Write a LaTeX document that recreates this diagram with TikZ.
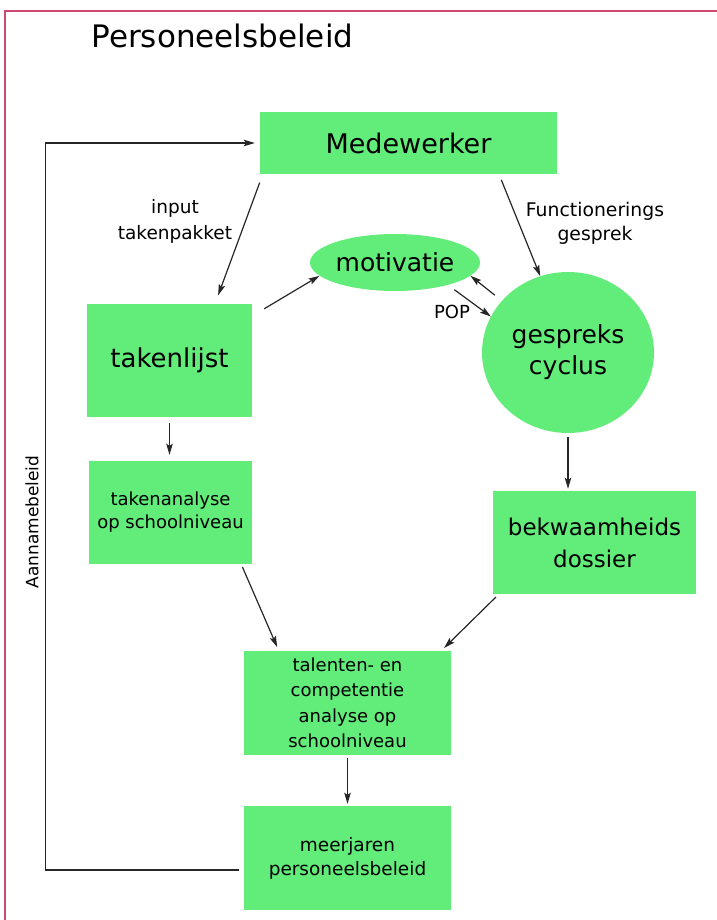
\documentclass[tikz,border=0pt]{standalone}
\usepackage{fontspec}
\setmainfont{DejaVu Sans}
\usepackage{tikz}
\usetikzlibrary{calc}
\usetikzlibrary{arrows.meta}
\usetikzlibrary{shapes.geometric}
\usepackage{color}
\definecolor{grasgroen}{RGB}{98, 236, 121}
\definecolor{kaderrood}{RGB}{204, 74, 112}

\begin{document}
\begin{tikzpicture}[x=1pt, y=-1pt,
        blok/.style={rectangle, fill=grasgroen, inner sep=0pt, align=center},
        bol/.style={ellipse, fill=grasgroen, inner sep=0pt, align=center},
        pijl/.style={-{Stealth[length=11pt, width=6.5pt, inset=2pt]}, line width=1.2pt, black!85}]
            \useasboundingbox                                        (0, 0) rectangle (716, 920);
            \draw[kaderrood, line width=2pt]                         (5, 11) rectangle (730, 935);
            \node[anchor=base west, font=\fontsize{31}{36}\selectfont]                  (titel)        at ( 88.0,  48.0) {Personeelsbeleid};
            \node[blok, minimum width=297pt, minimum height=62pt,  font=\fontsize{27}{32}\selectfont]   (medewerker)   at (408.5, 143.0) {Medewerker};
            \node[blok, minimum width=165pt, minimum height=113pt, font=\fontsize{26}{30}\selectfont]   (takenlijst)   at (169.5, 360.5) {takenlijst};
            \node[bol,  minimum width=170pt, minimum height=57pt,  font=\fontsize{25}{30}\selectfont]   (motivatie)    at (395.0, 262.5) {motivatie};
            \node[bol,  minimum width=172pt, minimum height=161pt, font=\fontsize{25}{31}\selectfont]   (gespreks)     at (568.0, 352.5) {gespreks\\cyclus};
            \node[blok, minimum width=163pt, minimum height=103pt, font=\fontsize{18}{23}\selectfont]   (takenanalyse) at (170.5, 512.5) {takenanalyse\\op schoolniveau};
            \node[blok, minimum width=203pt, minimum height=103pt, font=\fontsize{23}{32}\selectfont]   (bekwaamheid)  at (594.5, 542.5) {bekwaamheids\\dossier};
            \node[blok, minimum width=207pt, minimum height=104pt, font=\fontsize{18}{25.5}\selectfont] (talenten)     at (347.5, 703.0) {talenten- en\\competentie\\analyse op\\schoolniveau};
            \node[blok, minimum width=207pt, minimum height=104pt, font=\fontsize{18.5}{24}\selectfont] (meerjaren)    at (347.5, 858.0) {meerjaren\\personeelsbeleid};
            \node[align=center, font=\fontsize{18.5}{26}\selectfont]                    (invoer)        at (175.0, 221.0) {input\\takenpakket};
            \node[align=center, font=\fontsize{18.8}{24}\selectfont]                    (functionering) at (595.0, 223.0) {Functionerings\\gesprek};
            \node[font=\fontsize{18}{22}\selectfont]                                    (pop)           at (452.0, 312.0) {POP};
            \node[rotate=90, font=\fontsize{17}{20}\selectfont]                         (aanname)       at ( 32.0, 522.0) {Aannamebeleid};
            \draw[pijl, shorten <=9pt, shorten >=9pt] ([xshift=3pt]medewerker.south west) -- ([xshift=45.5pt]takenlijst.north);
            \draw[pijl]                               ([xshift=12pt, yshift=-5pt]takenlijst.north east) -- (motivatie.190);
            \draw[pijl, shorten <=6pt]                ([xshift=90.5pt]medewerker.south) -- (gespreks.110);
            \draw[pijl, shorten <=9pt]                (gespreks.142) -- (motivatie.-10);
            \draw[pijl, shorten <=8pt]                (motivatie.-23) -- (gespreks.155);
            \draw[pijl, shorten <=4pt, shorten >=2pt] (gespreks.south) -- (gespreks.south |- bekwaamheid.north);
            \draw[pijl, shorten <=6pt, shorten >=6pt] (takenlijst.south) -- (takenlijst.south |- takenanalyse.north);
            \draw[pijl, shorten <=3pt, shorten >=4pt] ([xshift=-11pt]takenanalyse.south east) -- ([xshift=35pt]talenten.north west);
            \draw[pijl, shorten <=4pt, shorten >=4pt] ([xshift=6pt]bekwaamheid.south west) -- ([xshift=-10pt]talenten.north east);
            \draw[pijl, shorten <=3pt, shorten >=2pt] (talenten.south) -- (meerjaren.north);
            \draw[pijl, shorten >=5pt]                ([xshift=-5pt, yshift=-12pt]meerjaren.west) -- ++(-193, 0) |- (medewerker.west);
        \end{tikzpicture}
\end{document}
